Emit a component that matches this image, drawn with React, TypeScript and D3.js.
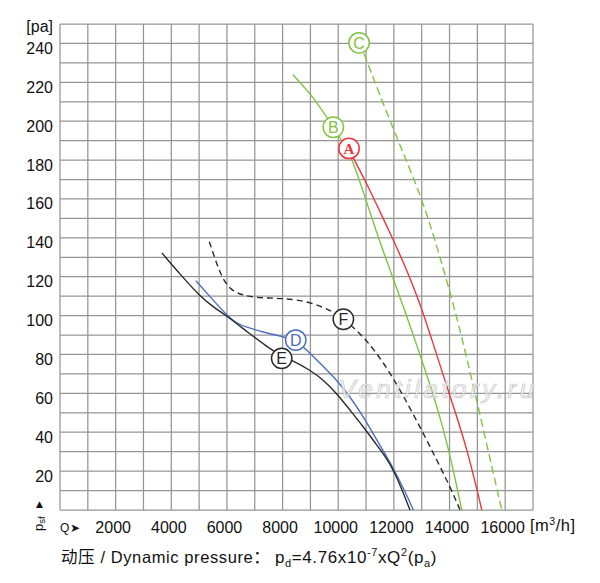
import React from "react";
import * as d3 from "d3";

// ---- data ----
const X_TICKS = [2000, 4000, 6000, 8000, 10000, 12000, 14000, 16000];
const Y_TICKS = [20, 40, 60, 80, 100, 120, 140, 160, 180, 200, 220, 240];

const qA = [10388, 10543, 11024, 11502, 11981, 12462, 12940, 13372, 14019, 14618, 15160];
const pA = [186, 180.9, 168, 153.4, 138.9, 123.5, 106.3, 87.4, 58.3, 32.6, 0];

const qB = [8364, 9105, 9824, 10300, 10485, 10963, 11384, 11862, 12340, 12760, 13000, 13480, 13958, 14440];
const pB = [224, 212.6, 197, 186, 180.9, 161.2, 142.3, 123.5, 104.6, 87.4, 77.2, 56.6, 32.6, 0];

const qC = [10784, 10963, 11981, 13000, 13659, 14317, 14976, 15876];
const pC = [240.4, 233.2, 195.5, 161.2, 130.3, 96.8, 56.6, 0];

const qD = [4877, 5440, 6003, 6350, 6711, 7300, 7908, 8470, 8868, 9346, 9946, 10424, 10902, 11384, 11720, 12042, 12400, 12700];
const pD = [118, 109, 100, 96, 94, 91.5, 89.5, 87.4, 82.3, 75.5, 66.9, 58.3, 48, 36, 28, 19.7, 9.5, 0];

const qE = [3666, 4338, 5032, 5500, 6003, 6830, 7400, 7968, 8329, 8986, 9465, 9946, 10424, 10902, 11300, 11650, 12042, 12580];
const pE = [132.2, 120.9, 110, 104.5, 99.8, 90.5, 84.5, 79, 77.2, 72, 66.9, 60, 51.4, 42.8, 35, 28.5, 19.5, 0];

const qF = [5367, 5600, 5812, 6111, 6711, 7400, 8027, 8986, 9824, 10184, 10665, 11260, 11922, 12520, 13059, 13540, 14019, 14378];
const pF = [138, 128, 120, 113, 109.7, 109, 108.9, 107.2, 102, 98.1, 92.6, 83.2, 69.4, 54, 39.4, 25.7, 12, 0];

const SERIES_NAMES = ["A", "B", "C", "D", "E", "F"];
const LABEL_Q = [10388, 9824, 10750, 8472, 7968, 10184];
const LABEL_P = [186, 196.9, 240.3, 87.4, 78, 98.1];

const RED = "#e8383d";
const GREEN = "#82c341";
const BLUE = "#4a6fbd";
const BLACK = "#2a2a2a";

const FONT = "'Liberation Sans', Arial, Helvetica, 'Noto Sans CJK SC', sans-serif";

export default function App() {
  const x = d3.scaleLinear().domain([0, 17000]).range([60, 533]);
  const y = d3.scaleLinear().domain([0, 250]).range([510, 24]);
  const line = d3
    .line<[number, number]>()
    .x((d) => x(d[0]))
    .y((d) => y(d[1]))
    .curve(d3.curveBasis);

  const zip = (q: number[], p: number[]) => q.map((v, i) => [v, p[i]] as [number, number]);

  const curves = [
    { id: "A", d: line(zip(qA, pA)), color: RED, dash: undefined },
    { id: "B", d: line(zip(qB, pB)), color: GREEN, dash: undefined },
    { id: "C", d: line(zip(qC, pC)), color: GREEN, dash: "8 4" },
    { id: "D", d: line(zip(qD, pD)), color: BLUE, dash: undefined },
    { id: "E", d: line(zip(qE, pE)), color: BLACK, dash: undefined },
    { id: "F", d: line(zip(qF, pF)), color: BLACK, dash: "6 4" },
  ];
  const labelColor: Record<string, string> = { A: RED, B: GREEN, C: GREEN, D: BLUE, E: BLACK, F: BLACK };

  const vLines = d3.range(0, 17001, 1000);
  const hLines = d3.range(0, 251, 10);

  return (
    <svg
      width={600}
      height={583}
      style={{ position: "absolute", left: 0, top: 0, background: "#fff" }}
      fontFamily={FONT}
    >
      <rect x={0} y={0} width={600} height={583} fill="#fff" />
      {/* grid */}
      <g stroke="#959595" strokeWidth={1.25}>
        {vLines.map((v) => (
          <line key={"v" + v} x1={x(v)} x2={x(v)} y1={y(0)} y2={y(250)} />
        ))}
        {hLines.map((v) => (
          <line key={"h" + v} x1={x(0)} x2={x(17000)} y1={y(v)} y2={y(v)} />
        ))}
      </g>
      {/* y labels */}
      <g fontSize={16} fill="#111" textAnchor="end">
        {Y_TICKS.map((v) => (
          <text key={v} x={53} y={y(v) + 10.5}>
            {v}
          </text>
        ))}
        <text x={53} y={32}>[pa]</text>
      </g>
      {/* x labels */}
      <g fontSize={16} fill="#111" textAnchor="middle">
        {X_TICKS.map((v) => (
          <text key={v} x={x(v) - 2.5} y={533}>
            {v}
          </text>
        ))}
      </g>
      <text x={530} y={531} fontSize={16.5} letterSpacing={0.5} fill="#111">
        [m<tspan dy={-6} fontSize={10.5}>3</tspan>
        <tspan dy={6}>/h]</tspan>
      </text>
      <text x={60} y={532} fontSize={12} fill="#111">Q</text>
      <text x={70} y={532} fontSize={12} fill="#111" fontFamily="'DejaVu Sans', sans-serif">➤</text>
      {/* rotated psf */}
      <text transform="translate(43,531) rotate(-90)" fontSize={13} fill="#111">
        p<tspan dy={2} fontSize={9.5}>sf</tspan>
      </text>
      <text x={39.5} y={507} fontSize={9} textAnchor="middle" fill="#111" fontFamily="'DejaVu Sans', sans-serif">▲</text>

      {/* curves */}
      <g fill="none" strokeWidth={1.4}>
        {curves.map((c) => (
          <path key={c.id} d={c.d || ""} stroke={c.color} strokeDasharray={c.dash} />
        ))}
      </g>

      {/* watermark */}
      <text
        x={438}
        y={398}
        textAnchor="middle"
        fontSize={26}
        letterSpacing={3.5}
        fontStyle="italic"
        fill="#f4f4f4"
        fillOpacity={0.75}
        stroke="#b8b8b8"
        strokeOpacity={0.8}
        strokeWidth={0.7}
      >
        Ventilatory.ru
      </text>

      {/* labels */}
      {SERIES_NAMES.map((n, i) => (
        <g key={n} transform={`translate(${x(LABEL_Q[i])},${y(LABEL_P[i])})`}>
          <circle r={10.2} fill="#fff" stroke={labelColor[n]} strokeWidth={1.5} />
          <text
            textAnchor="middle"
            dy="0.36em"
            fontSize={n === "A" ? 15 : 16}
            fontWeight={n === "A" ? "bold" : "normal"}
            fontFamily={n === "A" ? "'Liberation Serif', 'DejaVu Serif', serif" : FONT}
            fill={labelColor[n]}
          >
            {n}
          </text>
        </g>
      ))}

      {/* bottom formula */}
      <text x={61} y={563} fontSize={16.5} letterSpacing={0.6} fill="#111">
        动压 / Dynamic pressure：
      </text>
      <text x={275} y={563} fontSize={17} letterSpacing={0.6} fill="#111">
        p<tspan dy={4} fontSize={11}>d</tspan>
        <tspan dy={-4}>=4.76x10</tspan>
        <tspan dy={-7} fontSize={11}>-7</tspan>
        <tspan dy={7}>xQ</tspan>
        <tspan dy={-7} fontSize={11}>2</tspan>
        <tspan dy={7}>(p</tspan>
        <tspan dy={4} fontSize={11}>a</tspan>
        <tspan dy={-4}>)</tspan>
      </text>
    </svg>
  );
}
